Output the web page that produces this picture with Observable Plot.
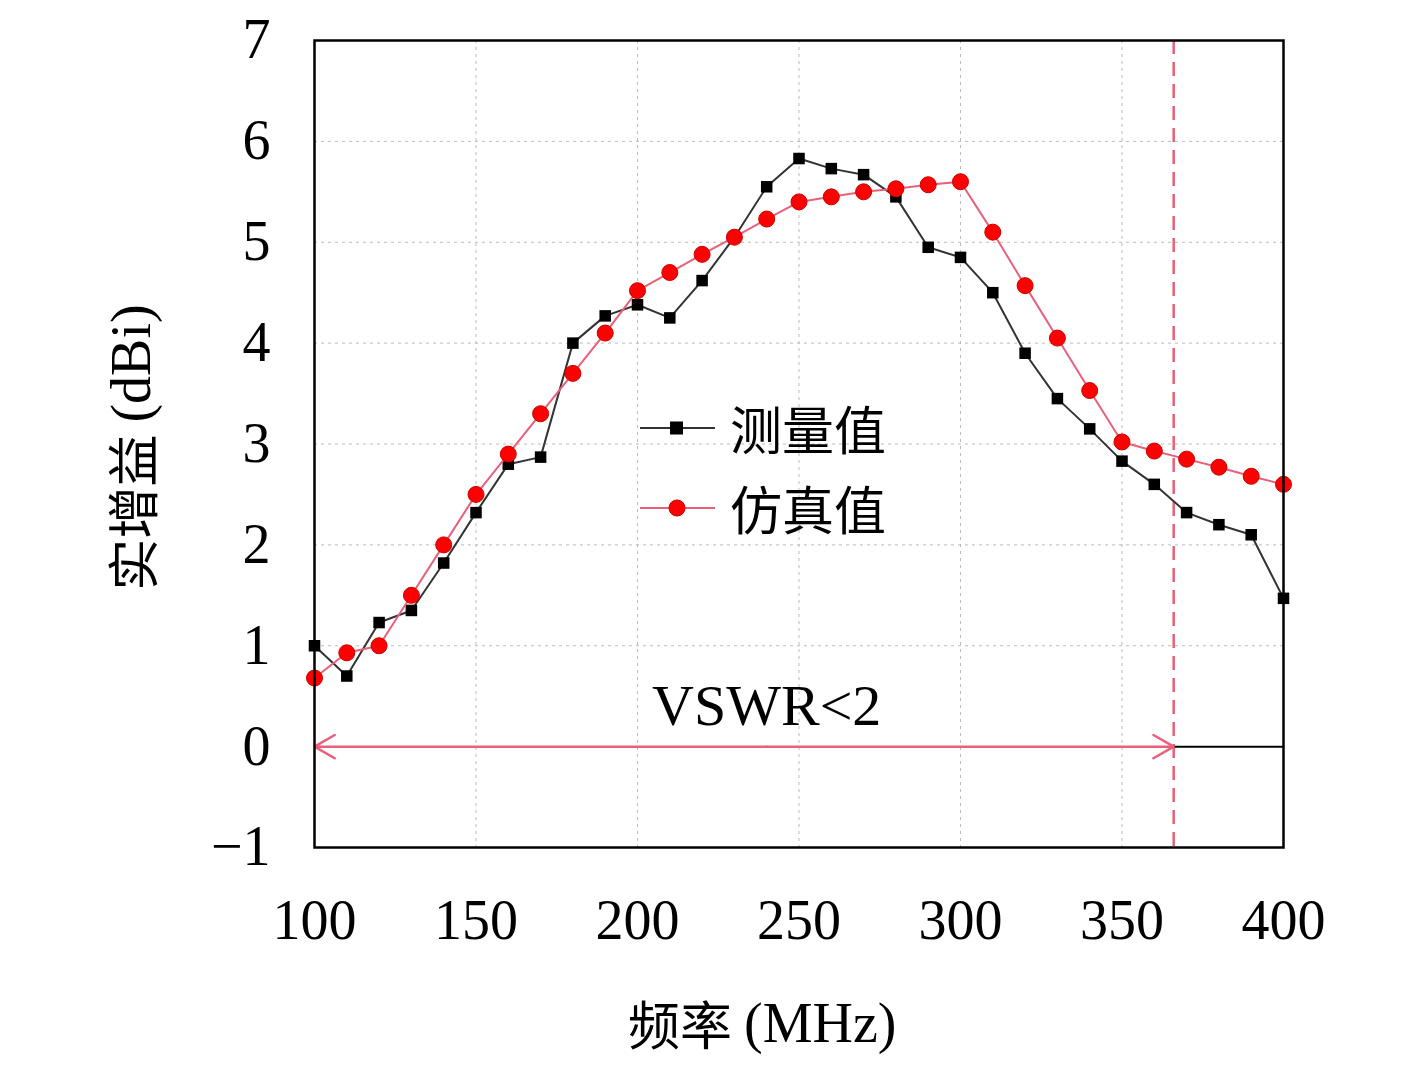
<!DOCTYPE html>
<html><head><meta charset="utf-8">
<script src="https://cdn.jsdelivr.net/npm/d3@7"></script>
<script src="https://cdn.jsdelivr.net/npm/@observablehq/plot@0.6"></script>
<style>body{margin:0;background:#fff;} #wrap{position:relative;width:1417px;height:1070px;}
.lg{position:absolute;font-family:"Noto Sans CJK SC";font-size:52px;display:flex;align-items:center;}
</style></head><body><div id="wrap"></div>
<script>
const freq = d3.range(100, 401, 10);
const measured = [1.0,0.7,1.23,1.35,1.82,2.32,2.8,2.87,4.0,4.27,4.38,4.25,4.62,5.05,5.55,5.83,5.73,5.67,5.45,4.95,4.85,4.5,3.9,3.45,3.15,2.83,2.6,2.32,2.2,2.1,1.47];
const simulated = [0.68,0.93,1.0,1.5,2.0,2.5,2.9,3.3,3.7,4.1,4.52,4.7,4.88,5.05,5.23,5.4,5.45,5.5,5.53,5.57,5.6,5.1,4.57,4.05,3.53,3.02,2.93,2.85,2.77,2.68,2.6];
const xTicks = [100,150,200,250,300,350,400];
const yTicks = [-1,0,1,2,3,4,5,6,7];
const vswrLimit = 366;
const m = freq.map((f,i)=>({f, v: measured[i]}));
const s = freq.map((f,i)=>({f, v: simulated[i]}));
const pink = "#e8607a";
const chart = Plot.plot({
  width:1417, height:1070,
  marginLeft:314, marginRight:134, marginTop:40, marginBottom:223,
  style:{fontFamily:"'Liberation Serif', serif", fontSize:"56px", background:"#fff"},
  x:{domain:[100,400], ticks:xTicks, tickSize:0, tickPadding:52, label:null},
  y:{domain:[-1,7], ticks:yTicks, tickSize:0, tickPadding:44, label:null, tickFormat:d=>d<0?"−"+(-d):d},
  marks:[
    Plot.gridX(xTicks,{stroke:"#bbb", strokeDasharray:"3,4", strokeOpacity:1}),
    Plot.gridY(yTicks,{stroke:"#bbb", strokeDasharray:"3,4", strokeOpacity:1}),
    Plot.ruleX([vswrLimit],{stroke:pink, strokeWidth:2.5, strokeDasharray:"14,8"}),
    Plot.ruleY([0],{x1:vswrLimit, x2:400, stroke:"#000", strokeWidth:2}),
    Plot.arrow([{a:240,b:vswrLimit}],{x1:"a",x2:"b",y1:0,y2:0,stroke:pink,strokeWidth:2.5,headLength:14,bend:0}),
    Plot.arrow([{a:240,b:100}],{x1:"a",x2:"b",y1:0,y2:0,stroke:pink,strokeWidth:2.5,headLength:14,bend:0}),
    Plot.text(["VSWR<2"],{x:240,y:0.4,fontSize:58,fill:"#000"}),
    Plot.line(m,{x:"f",y:"v",stroke:"#333",strokeWidth:2}),
    Plot.dot(m,{x:"f",y:"v",symbol:"square",r:6.5,fill:"#000"}),
    Plot.line(s,{x:"f",y:"v",stroke:pink,strokeWidth:2}),
    Plot.dot(s,{x:"f",y:"v",r:8,fill:"#ff0000",stroke:"#c00",strokeWidth:1}),
    Plot.frame({stroke:"#000",strokeWidth:2.5})
  ]
});
const w = document.getElementById("wrap");
w.appendChild(chart);
function add(html, style){const d=document.createElement("div");d.className="lg";d.innerHTML=html;Object.assign(d.style,style);w.appendChild(d);}
add('<svg width="80" height="30"><line x1="0" y1="15" x2="75" y2="15" stroke="#333" stroke-width="2"/><rect x="30" y="8.5" width="13" height="13" fill="#000"/></svg><span style="margin-left:10px">测量值</span>',{left:"640px",top:"390px"});
add('<svg width="80" height="30"><line x1="0" y1="15" x2="75" y2="15" stroke="'+pink+'" stroke-width="2"/><circle cx="37" cy="15" r="8" fill="#f00" stroke="#c00"/></svg><span style="margin-left:10px">仿真值</span>',{left:"640px",top:"470px"});
add('频率 <span style="font-family:Liberation Serif;margin-left:12px;font-size:56px">(MHz)</span>',{left:"628px",top:"985px"});
add('实增益 <span style="font-family:Liberation Serif;margin-left:12px;font-size:56px">(dBi)</span>',{left:"-30px",top:"410px",transform:"rotate(-90deg)",transformOrigin:"center",width:"320px",justifyContent:"center"});
</script></body></html>
